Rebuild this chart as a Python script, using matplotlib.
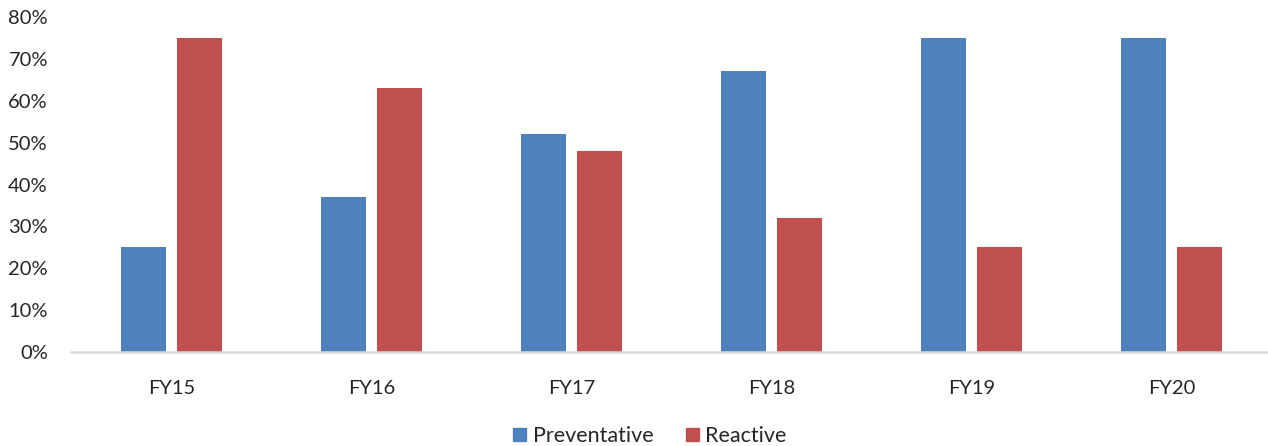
import numpy as np
from matplotlib import pyplot as plt
from matplotlib.patches import Patch

years = ['FY15', 'FY16', 'FY17', 'FY18', 'FY19', 'FY20']
preventative = [25, 37, 52, 67, 75, 75]
reactive = [75, 63, 48, 32, 25, 25]
yticks = [0, 10, 20, 30, 40, 50, 60, 70, 80]

blue = '#4F81BD'
red = '#C0504D'

plt.rcParams['font.family'] = ['Lato', 'DejaVu Sans']

fig = plt.figure(figsize=(12.68, 4.46), dpi=100)
ax = fig.add_axes([71.5 / 1268, 94 / 446, 1200 / 1268, 335 / 446])

x = np.arange(len(years))
w = 0.225
ax.bar(x - 0.14, preventative, width=w, color=blue)
ax.bar(x + 0.14, reactive, width=w, color=red)

ax.set_xlim(-0.5, len(years) - 0.5)
ax.set_ylim(0, 80)
ax.set_yticks(yticks)
ax.set_yticklabels(['%d%%' % v for v in yticks])
ax.set_xticks(x)
ax.set_xticklabels(years)

for s in ['top', 'right', 'left']:
    ax.spines[s].set_visible(False)
ax.spines['bottom'].set_color('#d9d9d9')
ax.spines['bottom'].set_linewidth(1.8)
ax.tick_params(axis='both', length=0, labelsize=14.5, colors='#262626')
ax.tick_params(axis='y', pad=17)
ax.tick_params(axis='x', pad=20)

handles = [Patch(color=blue, label='Preventative'), Patch(color=red, label='Reactive')]
fig.legend(handles=handles, loc='center', bbox_to_anchor=(650 / 1268, 10 / 446), ncol=2,
           frameon=False, fontsize=15.5, handlelength=0.6, handleheight=0.6,
           handletextpad=0.3, columnspacing=1.5, labelcolor='#262626')

fig.savefig('out.png', dpi=100)
